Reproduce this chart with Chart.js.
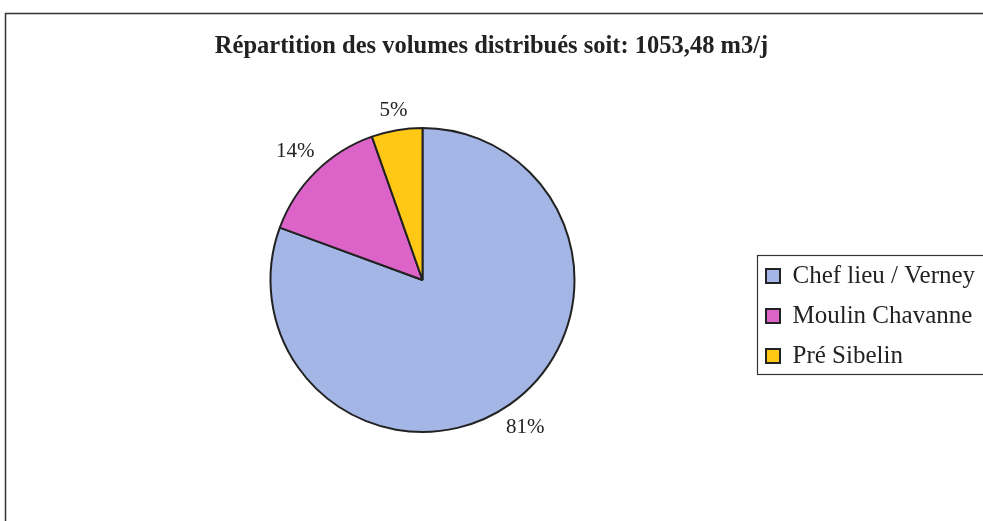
<!DOCTYPE html>
<html><head><meta charset="utf-8">
<script src="https://cdn.jsdelivr.net/npm/chart.js@4.4.0/dist/chart.umd.min.js"></script>
<style>html,body{margin:0;padding:0;background:#fff;} canvas{display:block;}</style>
</head><body>
<canvas id="c" width="983" height="521"></canvas>
<script>
const chartTitle = 'Répartition des volumes distribués soit: 1053,48 m3/j';
const categories = ['Chef lieu / Verney', 'Moulin Chavanne', 'Pré Sibelin'];
const volumes = [849.1, 147.5, 56.9];
const sliceColors = ['#A4B6E6', '#DC64C9', '#FFC815'];

const SERIF = '"Liberation Serif", "Times New Roman", serif';
const LEGEND_FONT_SIZE = 25;

// measure the widest legend text to balance the layout
const mctx = document.createElement('canvas').getContext('2d');
mctx.font = LEGEND_FONT_SIZE + 'px ' + SERIF;
const tw = Math.max(...categories.map(t => mctx.measureText(t).width));
const LEG_PAD = 15;
const legendW = LEG_PAD + 14 + LEGEND_FONT_SIZE / 2 + tw + 10;
const sidePad = 983 - (766 - LEG_PAD) - legendW;   // legend box markers near x=766
const leftSpacer = legendW - 2 * (983 / 2 - 422.5); // shifts pie centre left of title centre

const framePlugin = {
  id: 'frame',
  beforeDraw(chart) {
    const ctx = chart.ctx;
    ctx.save();
    ctx.fillStyle = '#fff';
    ctx.fillRect(0, 0, chart.width, chart.height);
    ctx.strokeStyle = '#333';
    ctx.lineWidth = 1.5;
    ctx.strokeRect(5.5, 13.5, chart.width + 20, chart.height + 20);
    ctx.restore();
  }
};

const pctLabelPlugin = {
  id: 'pctLabels',
  afterDatasetsDraw(chart) {
    const ctx = chart.ctx;
    const meta = chart.getDatasetMeta(0);
    const data = chart.data.datasets[0].data;
    const total = data.reduce((a, b) => a + b, 0);
    ctx.save();
    ctx.font = '21px ' + SERIF;
    ctx.fillStyle = '#222';
    ctx.textAlign = 'center';
    ctx.textBaseline = 'middle';
    meta.data.forEach((arc, i) => {
      const p = arc.getProps(['x', 'y', 'startAngle', 'endAngle', 'outerRadius'], true);
      const mid = (p.startAngle + p.endAngle) / 2;
      const dx = Math.cos(mid), dy = Math.sin(mid);
      const txt = Math.round(data[i] / total * 100) + '%';
      const w = ctx.measureText(txt).width, h = 18;
      const ext = Math.abs(dx) * w / 2 + Math.abs(dy) * h / 2;
      const d = p.outerRadius + 9 + ext;
      ctx.fillText(txt, p.x + dx * d, p.y + dy * d);
    });
    ctx.restore();
  }
};

const legendBoxPlugin = {
  id: 'legendBox',
  afterDraw(chart) {
    const hb = chart.legend && chart.legend.legendHitBoxes;
    if (!hb || !hb.length) return;
    const ctx = chart.ctx;
    const last = hb[hb.length - 1];
    const left = Math.round(hb[0].left - 9) + 0.5;
    const top = Math.round(hb[0].top - 8) + 0.5;
    const bottom = Math.round(last.top + last.height + 6) + 0.5;
    ctx.save();
    ctx.strokeStyle = '#333';
    ctx.lineWidth = 1.2;
    ctx.strokeRect(left, top, chart.width + 20 - left, bottom - top);
    ctx.restore();
  }
};

new Chart(document.getElementById('c'), {
  type: 'pie',
  data: {
    labels: categories,
    datasets: [{
      data: volumes,
      backgroundColor: sliceColors,
      borderColor: '#222',
      borderWidth: 2,
      radius: 152,
      hoverOffset: 0
    }]
  },
  options: {
    responsive: false,
    animation: false,
    devicePixelRatio: 1,
    layout: { padding: { left: sidePad, right: sidePad, top: 10, bottom: 32.2 } },
    plugins: {
      title: {
        display: true,
        text: chartTitle,
        color: '#222',
        font: { family: SERIF, size: 24.5, weight: 'bold', lineHeight: 1.15 },
        padding: { top: 23, bottom: 10 }
      },
      subtitle: {
        display: true,
        position: 'left',
        fullSize: false,
        text: ' ',
        color: 'rgba(0,0,0,0)',
        font: { size: 10, lineHeight: 1 },
        padding: { top: Math.max(leftSpacer - 10, 0), bottom: 0 }
      },
      legend: {
        position: 'right',
        fullSize: false,
        align: 'center',
        title: { display: true, text: ' ', color: 'rgba(0,0,0,0)', font: { size: 10, lineHeight: 1 }, padding: { top: 62, bottom: 0 } },
        labels: {
          boxWidth: 14, boxHeight: 14, padding: LEG_PAD, color: '#222',
          font: { family: SERIF, size: LEGEND_FONT_SIZE }
        }
      },
      tooltip: { enabled: false }
    }
  },
  plugins: [framePlugin, pctLabelPlugin, legendBoxPlugin]
});
</script>
</body></html>
